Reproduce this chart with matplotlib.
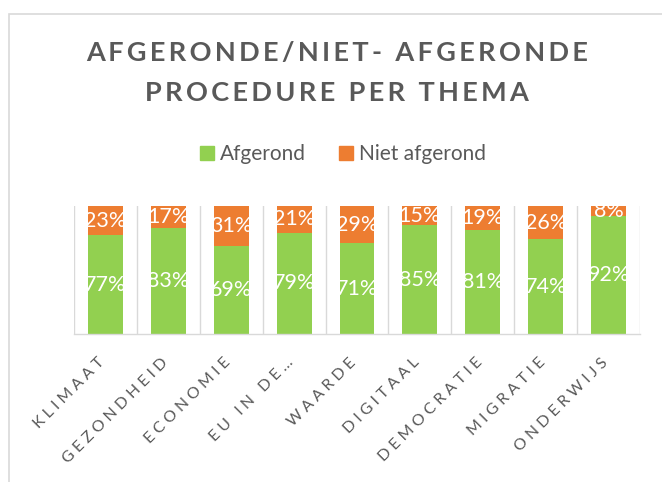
import numpy as np
import matplotlib
matplotlib.use("Agg")
import matplotlib.pyplot as plt
from matplotlib.patches import Rectangle, Patch
from matplotlib.transforms import ScaledTranslation

# data
themas = ["KLIMAAT", "GEZONDHEID", "ECONOMIE", "EU IN DE…", "WAARDE",
          "DIGITAAL", "DEMOCRATIE", "MIGRATIE", "ONDERWIJS"]
afgerond = [77, 83, 69, 79, 71, 85, 81, 74, 92]
niet_afgerond = [23, 17, 31, 21, 29, 15, 19, 26, 8]
title_lines = ["AFGERONDE/NIET- AFGERONDE", "PROCEDURE PER THEMA"]
series_names = ["Afgerond", "Niet afgerond"]

GREEN = "#92D050"
ORANGE = "#ED7D31"
GREY_TXT = "#595959"
GRID = "#D9D9D9"
FONT = ["Lato", "DejaVu Sans"]

plt.rcParams["font.family"] = FONT


def spaced(s, sep="\u2009"):
    return sep.join(s)


W, H = 662, 482
fig = plt.figure(figsize=(W / 100, H / 100), dpi=100)
ax = fig.add_axes([74 / W, 1 - 334 / H, 566 / W, 128 / H])

x = np.arange(len(themas))
bw = 0.555
ax.bar(x, afgerond, bw, color=GREEN, zorder=2)
ax.bar(x, niet_afgerond, bw, bottom=afgerond, color=ORANGE, zorder=2)

for i, (a, n) in enumerate(zip(afgerond, niet_afgerond)):
    ax.text(i, a / 2, f"{a}%", ha="center", va="center", color="white",
            fontsize=15.5, zorder=3)
    ax.text(i, a + n / 2, f"{n}%", ha="center", va="center", color="white",
            fontsize=15.5, zorder=3)

ax.set_xlim(-0.5, len(themas) - 0.5)
ax.set_ylim(0, 100)
ax.set_yticks([])
ax.set_xticks(np.arange(-0.5, len(themas), 1), minor=True)
ax.grid(which="minor", axis="x", color=GRID, lw=1, zorder=0)
ax.set_xticks(x)
ax.set_xticklabels([spaced(t, "\u2009\u2009") for t in themas], rotation=45,
                   rotation_mode="anchor", ha="right", va="baseline",
                   color=GREY_TXT, fontsize=11.5)
ax.tick_params(axis="x", which="both", length=0, pad=21)
shift = ScaledTranslation(0, 0, fig.dpi_scale_trans)
for lab in ax.get_xticklabels():
    lab.set_transform(lab.get_transform() + shift)
for side in ["top", "left", "right"]:
    ax.spines[side].set_visible(False)
ax.spines["bottom"].set_color(GRID)
ax.spines["bottom"].set_linewidth(1)

# title
fig.text(337 / W, 1 - 53 / H, spaced(title_lines[0]), ha="center", va="center",
         fontsize=19.5, fontweight="bold", color=GREY_TXT)
fig.text(337 / W, 1 - 93 / H, spaced(title_lines[1]), ha="center", va="center",
         fontsize=19.5, fontweight="bold", color=GREY_TXT)

handles = [Patch(color=GREEN, label=series_names[0]),
           Patch(color=ORANGE, label=series_names[1])]
leg = fig.legend(handles=handles, loc="center", bbox_to_anchor=(343 / W, 1 - 154 / H),
                 ncol=2, frameon=False, fontsize=15, handlelength=0.65,
                 handleheight=0.65, handletextpad=0.3, columnspacing=1.6)
for t in leg.get_texts():
    t.set_color(GREY_TXT)

# chart frame (extends past the right and bottom edge)
fig.patches.append(Rectangle((9 / W, -0.1), 1.2, 1 - 14 / H + 0.1,
                             transform=fig.transFigure, fill=False,
                             edgecolor=GRID, lw=1.2))

fig.savefig("out.png", dpi=100)
